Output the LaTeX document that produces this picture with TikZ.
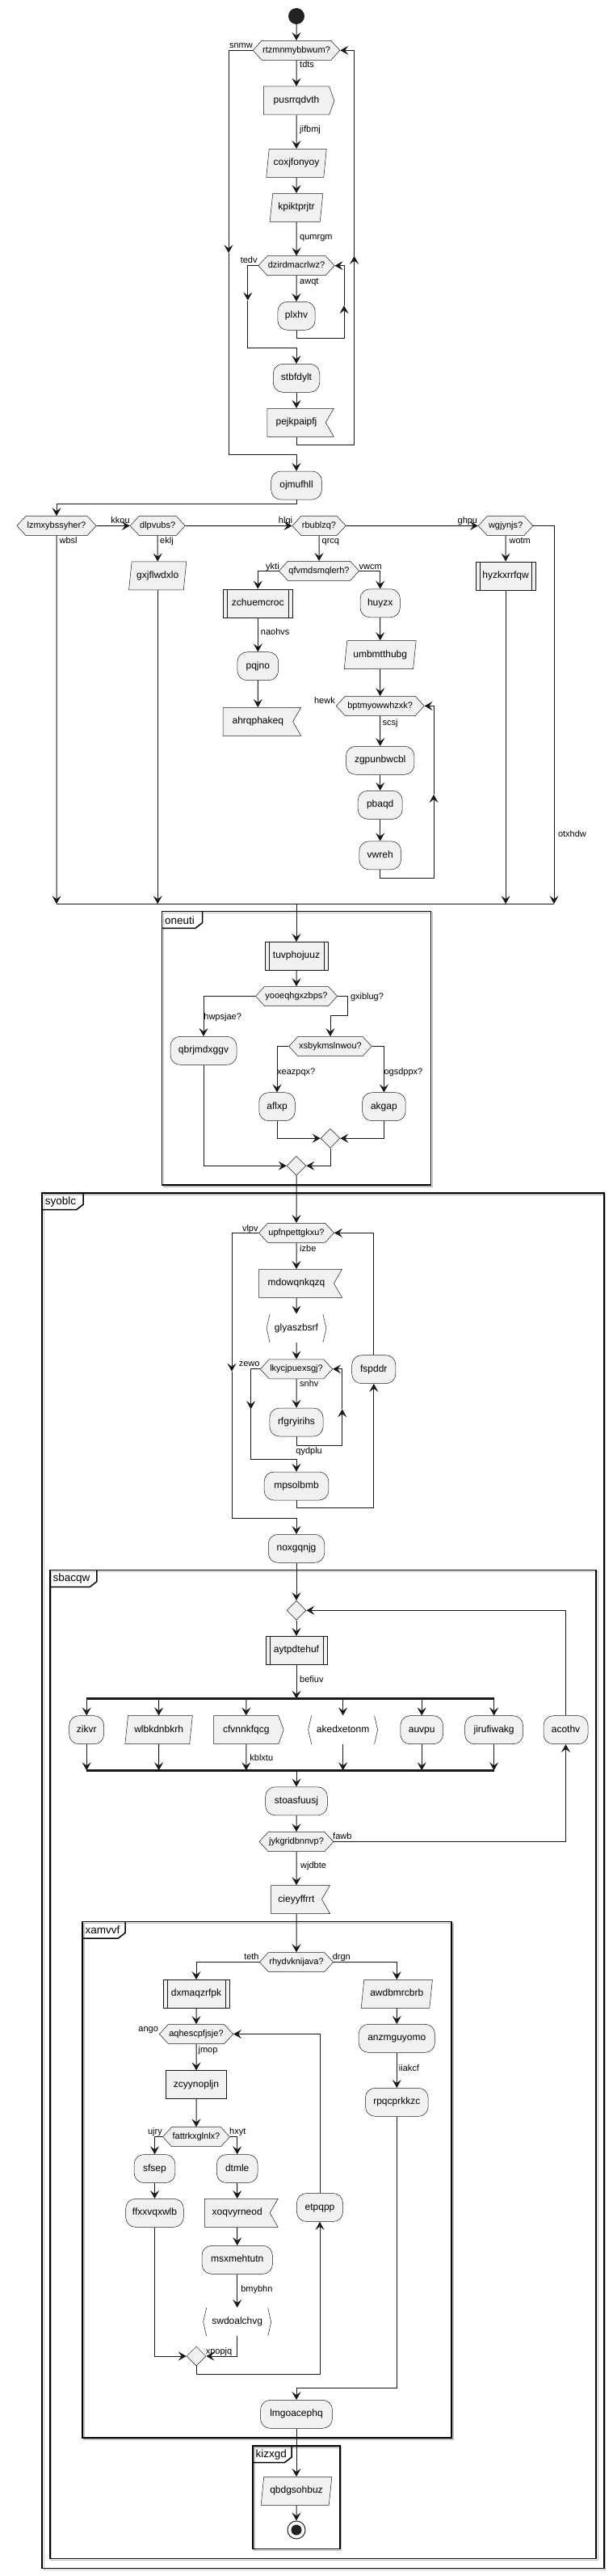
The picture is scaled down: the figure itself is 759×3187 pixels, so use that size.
\documentclass[tikz,border=0pt]{standalone}
\usepackage{fontspec}
\setmainfont{Liberation Sans}
\usetikzlibrary{positioning}
\usetikzlibrary{shapes.geometric,shapes.symbols}
\usetikzlibrary{arrows.meta}
\definecolor{boxfill}{HTML}{F1F1F1}
\definecolor{ink}{HTML}{181818}
\definecolor{dotcol}{HTML}{222222}
\newcommand{\actfont}{\fontsize{12pt}{14pt}\selectfont}
\newcommand{\lblfont}{\fontsize{11pt}{13pt}\selectfont}
\newcommand{\frmfont}{\fontsize{13.5pt}{15pt}\selectfont}

\begin{document}
\begin{tikzpicture}[x=1pt,y=-1pt,
    base/.style={inner sep=2pt,minimum height=35,text height=9,text depth=3,font=\actfont,draw=ink,fill=boxfill,line width=0.5pt},
    act/.style={base,rectangle,rounded corners=12},
    plain/.style={base,rectangle},
    subproc/.style={base,rectangle,path picture={
        \draw[ink,line width=0.5pt] ([xshift=5]path picture bounding box.north west) -- ([xshift=5]path picture bounding box.south west)
          ([xshift=-5]path picture bounding box.north east) -- ([xshift=-5]path picture bounding box.south east);}},
    inbox/.style={base,trapezium,trapezium left angle=79,trapezium right angle=101,trapezium stretches=true},
    sendbox/.style={base,signal,signal to=east,signal pointer angle=140},
    recvbox/.style={base,signal,signal to=nowhere,signal from=east,signal pointer angle=120},
    bracketbox/.style={base,rectangle,draw=none,fill=none,path picture={
        \draw[ink,line width=0.5pt] ([xshift=4.5]path picture bounding box.north west) -- ([xshift=0.5]path picture bounding box.west) -- ([xshift=4.5]path picture bounding box.south west)
          ([xshift=-4.5]path picture bounding box.north east) -- ([xshift=-0.5]path picture bounding box.east) -- ([xshift=-4.5]path picture bounding box.south east);}},
    decision/.style={signal,signal to=west and east,signal pointer angle=95,draw=ink,fill=boxfill,line width=0.5pt,
        minimum height=24,inner sep=1pt,text height=8,text depth=2.5,font=\lblfont},
    merge/.style={diamond,draw=ink,fill=boxfill,line width=0.5pt,minimum width=24,minimum height=24,inner sep=0pt},
    startdot/.style={circle,fill=dotcol,minimum size=20,inner sep=0pt},
    flow/.style={-{Stealth[length=10pt,width=11pt,inset=4pt]},draw=ink,line width=1pt},
    bar/.style={draw=ink,line width=3pt},
    lbl/.style={inner sep=0pt,font=\lblfont,text height=8,text depth=2},
    frame/.style={draw=black,line width=1.5pt},
    frameshade/.style={draw=black!25,line width=1.2pt}]
    \useasboundingbox (0,0) rectangle (759,3187);

    % partitions
    \foreach \n/\xa/\ya/\xb/\yb/\tw in {oneuti/200.5/1127.7/533.3/1466/50, syoblc/52.2/1476/747.8/3177.3/51,
        sbacqw/61.8/1942.7/738.2/3165.3/58, xamvvf/102/2377.3/559/3016/53, kizxgd/313/3026/420.8/3153.3/48} {
        \draw[frameshade] (\xa+2,\ya+2) rectangle (\xb+2,\yb+2);
        \draw[frame] (\xa,\ya) rectangle (\xb,\yb);
        \draw[frame] (\xa,\ya+20.7) -- (\xa+\tw-8.7,\ya+20.7) -- (\xa+\tw,\ya+14) -- (\xa+\tw,\ya);
        \node[inner sep=0pt,font=\frmfont,anchor=west] (frm\n) at (\xa+3.5,\ya+10.5) {\n};
    }

    % start and stop
    \node[startdot] (start) at (367,20) {};
    \node[circle,draw=dotcol,line width=1pt,fill=white,minimum size=22,inner sep=0pt] (stop) at (367,3130) {};
    \node[circle,fill=dotcol,minimum size=13,inner sep=0pt] (stopdot) at (stop) {};

    % decisions
    \foreach \n/\x/\y/\w in {rtzmnmybbwum/367/62.3/105.3, dzirdmacrlwz/367/328.7/94.2, lzmxybssyher/70/650.5/98.1,
        dlpvubs/195.2/650.5/67.6, rbublzq/395/650.5/64.2, wgjynjs/626.1/650.5/67.7, qfvmdsmqlerh/395/706.3/96.6,
        bptmyowwhzxk/470.7/873.4/109, yooeqhgxzbps/367/1232.5/100.6, xsbykmslnwou/409/1294.5/102.4,
        upfnpettgkxu/367/1525.3/90.8, lkycjpuexsgj/367/1693.8/87.9, jykgridbnnvp/367/2278.5/89.8,
        rhydvknijava/367/2427.5/89.8, aqhescpfjsje/243/2516.5/91.3, fattrkxglnlx/243/2643.7/83}
        \node[decision,minimum width=\w] (\n) at (\x,\y) {\n?};

    % activities
    \foreach \n/\x/\y/\w in {plxhv/367/390.8/46.3, stbfdylt/367/467.8/57.5, ojmufhll/367/600.5/62.7,
        huyzx/470.7/746.3/49.3, pqjno/319.3/824.2/50.7, zgpunbwcbl/470.7/940.8/84.5, pbaqd/470.7/995.8/55,
        vwreh/470.7/1058.3/51.7, qbrjmdxggv/252/1299.8/82, aflxp/343/1369.2/44.5, akgap/475.4/1369.2/53.6,
        fspddr/462.8/1694.2/54.2, rfgryirihs/367/1759.5/66.2, mpsolbmb/367/1838.5/79.8, noxgqnjg/367/1915.8/69.5,
        zikvr/107.2/2140.2/43, auvpu/522.2/2140.2/52.7, jirufiwakg/611.6/2140.2/72, acothv/700.5/2140.2/55,
        stoasfuusj/367/2228.3/76.8, anzmguyomo/491.3/2521.8/94.2, rpqcprkkzc/491.3/2600.8/77.7,
        sfsep/191.5/2683/50.8, dtmle/293.7/2683/50.8, ffxxvqxwlb/191.5/2737.8/71.6, etpqpp/396/2731/57.1,
        msxmehtutn/293.7/2795.8/87.4, lmgoacephq/367/2986.8/88.9}
        \node[act,minimum width=\w] (\n) at (\x,\y) {\n};
    \foreach \n/\x/\y/\w in {zchuemcroc/319.3/746.3/86.5, hyzkxrrfqw/626.1/712.3/74.4, tuvphojuuz/367/1182.8/77.8,
        aytpdtehuf/367/2041.8/75.8, dxmaqzrfpk/243/2466.8/82}
        \node[subproc,minimum width=\w] (\n) at (\x,\y) {\n};
    \node[plain,minimum width=75] (zcyynopljn) at (243,2579.2) {zcyynopljn};
    \foreach \n/\x/\y/\w in {coxjfonyoy/367/201.8/74.8, kpiktprjtr/367/256.8/66.2, gxjflwdxlo/195.2/712.3/71.6,
        umbmtthubg/470.7/810/89, wlbkdnbkrh/196.6/2140.2/83.5, awdbmrcbrb/491.3/2466.8/88.4, qbdgsohbuz/367/3081.8/87.9}
        \node[inbox,minimum width=\w] (\n) at (\x,\y) {\n};
    \foreach \n/\x/\y/\w in {pusrrqdvth/367/124.5/87.5, cfvnnkfqcg/304.8/2140.2/86.5}
        \node[sendbox,minimum width=\w] (\n) at (\x,\y) {\n};
    \foreach \n/\x/\y/\w in {pejkpaipfj/367/522.8/82.5, ahrqphakeq/319.3/892.8/96.7, mdowqnkqzq/367/1587.8/102.9,
        cieyyffrrt/367/2350/73, xoqvyrneod/293.7/2737.8/90.9}
        \node[recvbox,minimum width=\w] (\n) at (\x,\y) {\n};
    \foreach \n/\x/\y/\w in {glyaszbsrf/367/1643.3/74.8, akedxetonm/424.6/2140.2/87, swdoalchvg/293.7/2872.7/85}
        \node[bracketbox,minimum width=\w] (\n) at (\x,\y) {\n};

    % merge points and bars
    \node[merge] (mergeA) at (409,1408.3) {};
    \node[merge] (mergeB) at (367,1442.3) {};
    \node[merge] (repeatstart) at (367,1992.3) {};
    \node[merge] (mergeC) at (243,2915) {};
    \coordinate (mergeleft) at (70,1118.3);
    \coordinate (mergeright) at (686,1118.3);
    \coordinate (mergebar) at (367,1118.3);
    \coordinate (forkbar) at (367,2101.7);
    \coordinate (joinbar) at (367,2190.3);

    % connectors top loop
    \draw[flow] (start) -- (rtzmnmybbwum);
    \draw[flow] (rtzmnmybbwum) -- (pusrrqdvth);
    \draw[flow] (pusrrqdvth) -- (coxjfonyoy);
    \draw[flow] (coxjfonyoy) -- (kpiktprjtr);
    \draw[flow] (kpiktprjtr) -- (dzirdmacrlwz);
    \draw[flow] (dzirdmacrlwz) -- (plxhv);
    \coordinate (plxhvup) at (426,378);
    \draw[flow] (plxhv.south) -- ++(0,9.7) -| (plxhvup);
    \draw[flow] (plxhvup) |- (dzirdmacrlwz.east);
    \coordinate (tedvdown) at (306.8,371.7);
    \draw[flow] (dzirdmacrlwz.west) -| (tedvdown);
    \draw[flow] (tedvdown) -- ++(0,58.6) -| (stbfdylt.north);
    \draw[flow] (stbfdylt) -- (pejkpaipfj);
    \coordinate (rtzup) at (438.6,316.7);
    \draw[flow] (pejkpaipfj.south) -- ++(0,9.7) -| (rtzup);
    \draw[flow] (rtzup) |- (rtzmnmybbwum.east);
    \coordinate (snmwdown) at (283,313);
    \draw[flow] (rtzmnmybbwum.west) -| (snmwdown);
    \draw[flow] (snmwdown) -- ++(0,249.3) -| (ojmufhll.north);

    % connectors branch row
    \draw[flow] (ojmufhll.south) -- ++(0,4.8) -| (lzmxybssyher.north);
    \draw[flow] (lzmxybssyher) -- (dlpvubs);
    \draw[flow] (dlpvubs) -- (rbublzq);
    \draw[flow] (rbublzq) -- (wgjynjs);
    \draw[flow] (wgjynjs.east) -| (mergeright);
    \draw[flow] (lzmxybssyher) -- (mergeleft);
    \draw[flow] (dlpvubs) -- (gxjflwdxlo);
    \draw[flow] (gxjflwdxlo) -- (mergebar -| gxjflwdxlo);
    \draw[flow] (rbublzq) -- (qfvmdsmqlerh);
    \draw[flow] (qfvmdsmqlerh.west) -| (zchuemcroc);
    \draw[flow] (qfvmdsmqlerh.east) -| (huyzx);
    \draw[flow] (zchuemcroc) -- (pqjno);
    \draw[flow] (pqjno) -- (ahrqphakeq);
    \draw[flow] (huyzx) -- (umbmtthubg);
    \draw[flow] (umbmtthubg) -- (bptmyowwhzxk);
    \draw[flow] (bptmyowwhzxk) -- (zgpunbwcbl);
    \draw[flow] (zgpunbwcbl) -- (pbaqd);
    \draw[flow] (pbaqd) -- (vwreh);
    \coordinate (vwrehup) at (537,983);
    \draw[flow] (vwreh.south) -- ++(0,10) -| (vwrehup);
    \draw[flow] (vwrehup) |- (bptmyowwhzxk.east);
    \draw[flow] (wgjynjs) -- (hyzkxrrfqw);
    \draw[flow] (hyzkxrrfqw) -- (mergebar -| hyzkxrrfqw);
    \draw[ink,line width=1pt] (mergeleft) -- (mergeright);
    \draw[flow] (mergebar) -- (tuvphojuuz);

    % connectors oneuti
    \draw[flow] (tuvphojuuz) -- (yooeqhgxzbps);
    \draw[flow] (yooeqhgxzbps.west) -| (qbrjmdxggv);
    \draw[flow] (yooeqhgxzbps.east) -| ++(12.8,24.2) -| (xsbykmslnwou);
    \draw[flow] (xsbykmslnwou.west) -| (aflxp);
    \draw[flow] (xsbykmslnwou.east) -| (akgap);
    \draw[flow] (aflxp) |- (mergeA);
    \draw[flow] (akgap) |- (mergeA);
    \draw[flow] (mergeA) |- (mergeB);
    \draw[flow] (qbrjmdxggv) |- (mergeB);
    \draw[flow] (mergeB) -- (upfnpettgkxu);

    % connectors syoblc
    \draw[flow] (upfnpettgkxu) -- (mdowqnkqzq);
    \draw[flow] (mdowqnkqzq) -- (glyaszbsrf);
    \draw[flow] (glyaszbsrf) -- (lkycjpuexsgj);
    \draw[flow] (lkycjpuexsgj) -- (rfgryirihs);
    \coordinate (rfgrup) at (423.7,1743.3);
    \draw[flow] (rfgryirihs.south) -- ++(0,10.8) -| (rfgrup);
    \draw[flow] (rfgrup) |- (lkycjpuexsgj.east);
    \coordinate (zewodown) at (310.6,1743.3);
    \draw[flow] (lkycjpuexsgj.west) -| (zewodown);
    \draw[flow] (zewodown) -- ++(0,61.7) -| (mpsolbmb.north);
    \draw[flow] (mpsolbmb.south) -- ++(0,9.3) -| (fspddr);
    \draw[flow] (fspddr) |- (upfnpettgkxu.east);
    \coordinate (vlpvdown) at (287,1696.7);
    \draw[flow] (upfnpettgkxu.west) -| (vlpvdown);
    \draw[flow] (vlpvdown) -- ++(0,181.6) -| (noxgqnjg.north);
    \draw[flow] (noxgqnjg) -- (repeatstart);

    % connectors sbacqw
    \draw[flow] (repeatstart) -- (aytpdtehuf);
    \draw[flow] (aytpdtehuf) -- (forkbar);
    \draw[bar] (forkbar -| zikvr) -- (forkbar -| jirufiwakg);
    \draw[bar] (joinbar -| zikvr) -- (joinbar -| jirufiwakg);
    \foreach \n in {zikvr,wlbkdnbkrh,cfvnnkfqcg,akedxetonm,auvpu,jirufiwakg} {
        \draw[flow] (forkbar -| \n) -- (\n);
        \draw[flow] (\n) -- (joinbar -| \n);
    }
    \draw[flow] (joinbar) -- (stoasfuusj);
    \draw[flow] (stoasfuusj) -- (jykgridbnnvp);
    \draw[flow] (jykgridbnnvp.east) -| (acothv);
    \draw[flow] (acothv) |- (repeatstart);
    \draw[flow] (jykgridbnnvp) -- (cieyyffrrt);

    % connectors xamvvf
    \draw[flow] (cieyyffrrt) -- (rhydvknijava);
    \draw[flow] (rhydvknijava.west) -| (dxmaqzrfpk);
    \draw[flow] (rhydvknijava.east) -| (awdbmrcbrb);
    \draw[flow] (dxmaqzrfpk) -- (aqhescpfjsje);
    \draw[flow] (aqhescpfjsje) -- (zcyynopljn);
    \draw[flow] (zcyynopljn) -- (fattrkxglnlx);
    \draw[flow] (fattrkxglnlx.west) -| (sfsep);
    \draw[flow] (fattrkxglnlx.east) -| (dtmle);
    \draw[flow] (sfsep) -- (ffxxvqxwlb);
    \draw[flow] (dtmle) -- (xoqvyrneod);
    \draw[flow] (xoqvyrneod) -- (msxmehtutn);
    \draw[flow] (msxmehtutn) -- (swdoalchvg);
    \draw[flow] (ffxxvqxwlb) |- (mergeC);
    \draw[flow] (swdoalchvg) |- (mergeC);
    \draw[flow] (mergeC.south) -- ++(0,10) -| (etpqpp);
    \draw[flow] (etpqpp) |- (aqhescpfjsje.east);
    \draw[flow] (awdbmrcbrb) -- (anzmguyomo);
    \draw[flow] (anzmguyomo) -- (rpqcprkkzc);
    \draw[flow] (rpqcprkkzc.south) -- ++(0,335.7) -| (lmgoacephq.north);

    % connectors kizxgd
    \draw[flow] (lmgoacephq) -- (qbdgsohbuz);
    \draw[flow] (qbdgsohbuz) -- (stop);

    % labels
    \foreach \n/\t/\x/\y in {tdts/tdts/371/81, jifbmj/jifbmj/371/161, qumrgm/qumrgm/371/293.5, awqt/awqt/371/348.7,
        wbsl/wbsl/73.4/669.3, eklj/eklj/198/669.3, qrcq/qrcq/398.5/669.3, wotm/wotm/630.4/669.3, vwcm/vwcm/444.4/701.7,
        naohvs/naohvs/322.7/782.3, scsj/scsj/473.5/894, otxhdw/otxhdw/690.8/1032, gxiblug/gxiblug?/433.8/1233.3,
        hwpsjae/hwpsjae?/252.2/1258.3, xeazpqx/xeazpqx?/343/1326.3, ogsdppx/ogsdppx?/475.4/1326.3, izbe/izbe/371/1545.7,
        snhv/snhv/371/1712.7, qydplu/qydplu/366.2/1795.7, befiuv/befiuv/371/2078.3, kblxtu/kblxtu/309.2/2175.3,
        fawb/fawb/412/2272.3, wjdbte/wjdbte/372/2308.3, drgn/drgn/411.6/2421, jmop/jmop/245.4/2536.7,
        iiakcf/iiakcf/493.7/2559.3, hxyt/hxyt/284/2637.7, bmybhn/bmybhn/298.1/2832.3, xpopjq/xpopjq/254.6/2909.3}
        \node[lbl,anchor=west] (lbl\n) at (\x,\y) {\t};
    \foreach \n/\x/\y in {snmw/313/56.7, tedv/318.8/322, kkou/160.9/644, hlgi/362.3/644, ghpu/591.3/644,
        ykti/345.9/701.7, hewk/415/867.3, vlpv/319.8/1520.7, zewo/321.7/1687.7, teth/320.8/2421, ango/196.1/2510.7,
        ujry/201/2637.7}
        \node[lbl,anchor=east] (lbl\n) at (\x,\y) {\n};
\end{tikzpicture}
\end{document}
